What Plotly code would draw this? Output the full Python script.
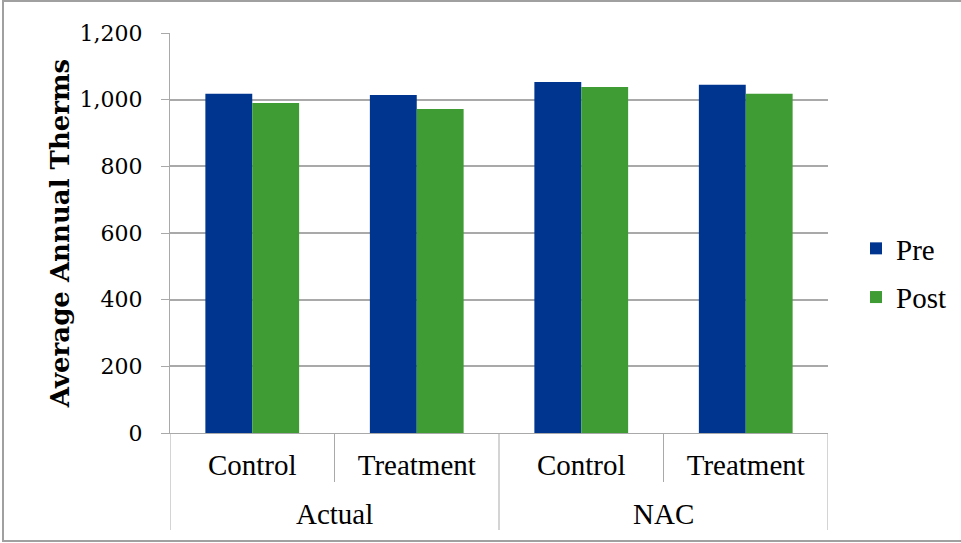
import plotly.graph_objects as go

# Data
groups = ["Actual", "Actual", "NAC", "NAC"]
conditions = ["Control", "Treatment", "Control", "Treatment"]
pre_values = [1018, 1014, 1053, 1045]
post_values = [990, 972, 1038, 1018]
y_ticks = [0, 200, 400, 600, 800, 1000, 1200]
y_tick_labels = ["0", "200", "400", "600", "800", "1,000", "1,200"]

PRE_COLOR = "#00358F"
POST_COLOR = "#3F9C35"
GRID = "#A9A9A9"
SERIF = "Liberation Serif"
WIDE_SERIF = "DejaVu Serif"

# one slot per condition on a numeric x axis
positions = list(range(len(conditions)))

fig = go.Figure()
fig.add_trace(go.Bar(
    x=positions, y=pre_values, name="Pre", offsetgroup="pre",
    marker=dict(color=PRE_COLOR, line=dict(width=0)), legendgroup="a",
))
fig.add_trace(go.Bar(
    x=positions, y=post_values, name="Post", offsetgroup="post",
    marker=dict(color=POST_COLOR, line=dict(width=0)), legendgroup="b",
))

W, H = 961, 543
L, R, T, B = 170, 133, 33, 110
pw, ph = W - L - R, H - T - B

fig.update_layout(
    width=W, height=H,
    margin=dict(l=L, r=R, t=T, b=B, pad=0, autoexpand=False),
    paper_bgcolor="white", plot_bgcolor="white",
    barmode="group", bargap=0.43, bargroupgap=0,
    font=dict(family=SERIF, color="#000000", size=20),
    showlegend=True,
    legend=dict(
        x=1.0 + 28 / pw, y=0.4, xanchor="left", yanchor="middle",
        font=dict(size=29, family=SERIF), tracegroupgap=8, itemwidth=30,
        bgcolor="rgba(0,0,0,0)",
    ),
    xaxis=dict(
        range=[-0.5, len(conditions) - 0.5],
        tickvals=positions, ticktext=conditions,
        showline=True, linecolor=GRID, linewidth=1,
        ticks="", ticklabelstandoff=6,
        tickfont=dict(size=29, family=SERIF),
        showgrid=False, zeroline=False, fixedrange=True,
    ),
    yaxis=dict(
        range=[0, 1200], tickvals=y_ticks, ticktext=y_tick_labels,
        showgrid=True, gridcolor=GRID, gridwidth=1.5,
        showline=True, linecolor=GRID, linewidth=1,
        ticks="outside", tickcolor=GRID, ticklen=8,
        ticklabelstandoff=14,
        tickfont=dict(size=22, family=WIDE_SERIF),
        title=dict(text="<b>Average Annual Therms</b>",
                   font=dict(size=26, family=WIDE_SERIF), standoff=2),
        zeroline=False,
    ),
)

# Category dividers: short ones between conditions, long ones between groups
inner_depth = -49 / ph
outer_depth = -97 / ph
for i in range(len(conditions) + 1):
    left = groups[i - 1] if i > 0 else None
    right = groups[i] if i < len(groups) else None
    depth = inner_depth if (left is not None and left == right) else outer_depth
    fig.add_shape(
        type="line", xref="x", yref="paper",
        x0=i - 0.5, x1=i - 0.5, y0=0, y1=depth,
        line=dict(color=GRID, width=1),
    )

# Group labels centred under their conditions
seen = []
for g in groups:
    if g not in seen:
        seen.append(g)
for g in seen:
    idx = [i for i, v in enumerate(groups) if v == g]
    fig.add_annotation(
        x=sum(idx) / len(idx), y=-81 / ph, xref="x", yref="paper",
        text=g, showarrow=False, xanchor="center", yanchor="middle",
        font=dict(size=29, family=SERIF, color="#000000"),
    )

# Outer chart border
fig.add_shape(
    type="rect", xref="paper", yref="paper",
    x0=(3 - L) / pw, x1=(W + 3 - L) / pw,
    y0=-(H - 2 - T - ph) / ph, y1=1 + (T - 1) / ph,
    line=dict(color="#A0A0A0", width=2), fillcolor="rgba(0,0,0,0)", layer="below",
)

fig.write_html("out.html")
